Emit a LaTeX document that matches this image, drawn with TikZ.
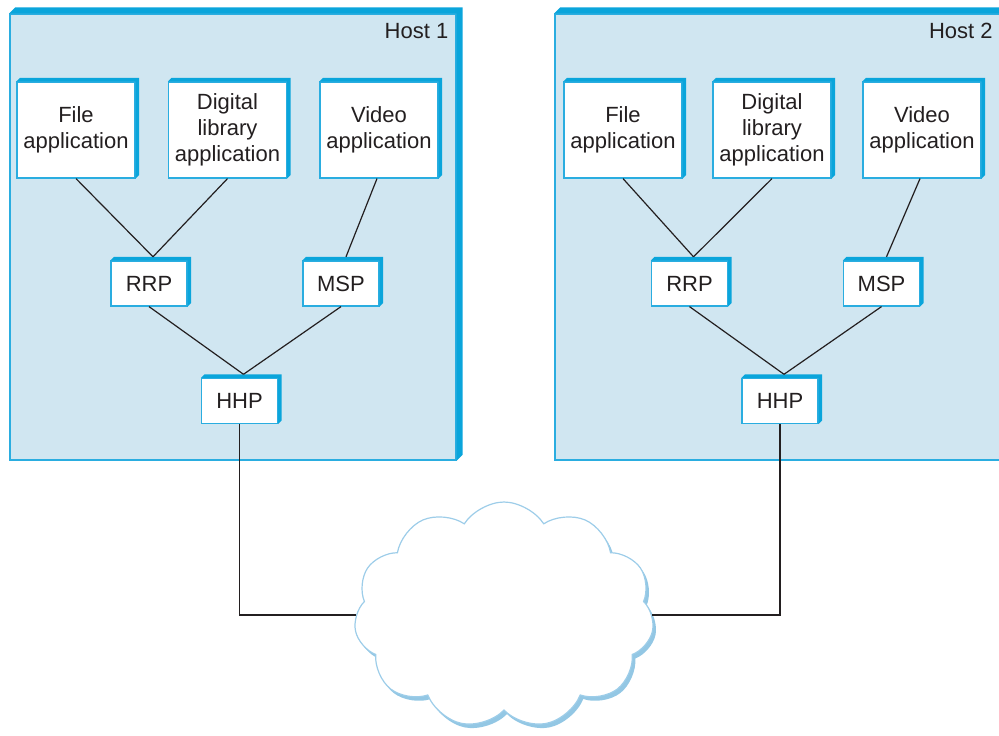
\documentclass[tikz,border=0pt]{standalone}
\usepackage{fontspec}
\setmainfont{Liberation Sans}
\usetikzlibrary{shapes.symbols,shadows}
\definecolor{hostfill}{HTML}{D0E6F1}
\definecolor{edgeblue}{HTML}{0AA5DB}
\definecolor{lineblue}{HTML}{2AADE0}
\definecolor{cloudline}{HTML}{9DCDE9}
\definecolor{cloudshade}{HTML}{93C7E4}
\definecolor{ink}{HTML}{231F20}
\tikzset{
	host/.style={draw=lineblue,line width=0.7pt,fill=hostfill,inner sep=0pt,
		minimum width=223pt,minimum height=223pt},
	hostname/.style={anchor=base east,inner sep=0pt,text=ink,font=\fontsize{11}{13}\selectfont},
	app/.style={draw=lineblue,line width=0.6pt,fill=white,text=ink,align=center,inner sep=0pt,
		font=\fontsize{11}{13}\selectfont},
	bigbox/.style={app,minimum width=59pt,minimum height=48pt},
	smallbox/.style={app,minimum width=38pt,minimum height=22.5pt},
	wire/.style={draw=ink,line width=0.6pt}
}
\newcommand{\rim}[2]{\fill[edgeblue](#1.north west)--++(#2,#2)-|([shift={(#2,#2)}]#1.south east)--(#1.south east)--(#1.north east)--cycle;}
\begin{document}
\begin{tikzpicture}[x=0.5pt,y=0.5pt]
		\useasboundingbox (0,0) rectangle (999,735);
		% hosts
		\node[host](host1) at (233,498) {};
		\node[host,minimum width=235pt](host2) at (790,498) {};
		\rim{host1}{3pt}
		\rim{host2}{3pt}
		\node[hostname](name1) at ([shift={(-4pt,-12.5pt)}]host1.north east) {Host 1};
		\node[hostname](name2) at ([shift={(-4pt,-12.5pt)}]host1.north east-|1001,0) {Host 2};
		% host 1
		\node[bigbox](file1) at (76,605) {File\\application};
		\node[bigbox](dlib1) at (227.5,605) {Digital\\library\\application};
		\node[bigbox](video1) at (379,605) {Video\\application};
		\node[smallbox](rrp1) at (149,451.5) {RRP};
		\node[smallbox](msp1) at (341,451.5) {MSP};
		\node[smallbox](hhp1) at (239.5,334) {HHP};
		% host 2
		\node[bigbox](file2) at (623,605) {File\\application};
		\node[bigbox](dlib2) at (772,605) {Digital\\library\\application};
		\node[bigbox](video2) at (922,605) {Video\\application};
		\node[smallbox](rrp2) at (689.5,451.5) {RRP};
		\node[smallbox](msp2) at (881.5,451.5) {MSP};
		\node[smallbox](hhp2) at (780,334) {HHP};
		\foreach \n in {file1,dlib1,video1,rrp1,msp1,hhp1,file2,dlib2,video2,rrp2,msp2,hhp2}
			{\rim{\n}{1.8pt}}
		% network
		\node[cloud,cloud puffs=11,cloud puff arc=115,aspect=1.32,draw=cloudline,line width=0.6pt,fill=white,
			minimum width=150pt,minimum height=113pt,inner sep=0pt,
			drop shadow={shadow xshift=1.5pt,shadow yshift=-2pt,fill=cloudshade,opacity=1}](cloud) at (504,120) {};
		\draw[wire](file1.south)--([shift={(2pt,1.8pt)}]rrp1.north);
		\draw[wire](dlib1.south)--([shift={(2pt,1.8pt)}]rrp1.north);
		\draw[wire]([xshift=-1pt]video1.south)--([shift={(2.5pt,1.8pt)}]msp1.north);
		\draw[wire](rrp1.south)--([shift={(2pt,1.8pt)}]hhp1.north);
		\draw[wire](msp1.south)--([shift={(2pt,1.8pt)}]hhp1.north);
		\draw[wire](file2.south)--([shift={(2pt,1.8pt)}]rrp2.north);
		\draw[wire](dlib2.south)--([shift={(2pt,1.8pt)}]rrp2.north);
		\draw[wire]([xshift=-1pt]video2.south)--([shift={(2.5pt,1.8pt)}]msp2.north);
		\draw[wire](rrp2.south)--([shift={(2pt,1.8pt)}]hhp2.north);
		\draw[wire](msp2.south)--([shift={(2pt,1.8pt)}]hhp2.north);
		\draw[wire](hhp1.south)|-(cloud.west);
		\draw[wire](hhp2.south)|-(cloud.east);
	\end{tikzpicture}
\end{document}
